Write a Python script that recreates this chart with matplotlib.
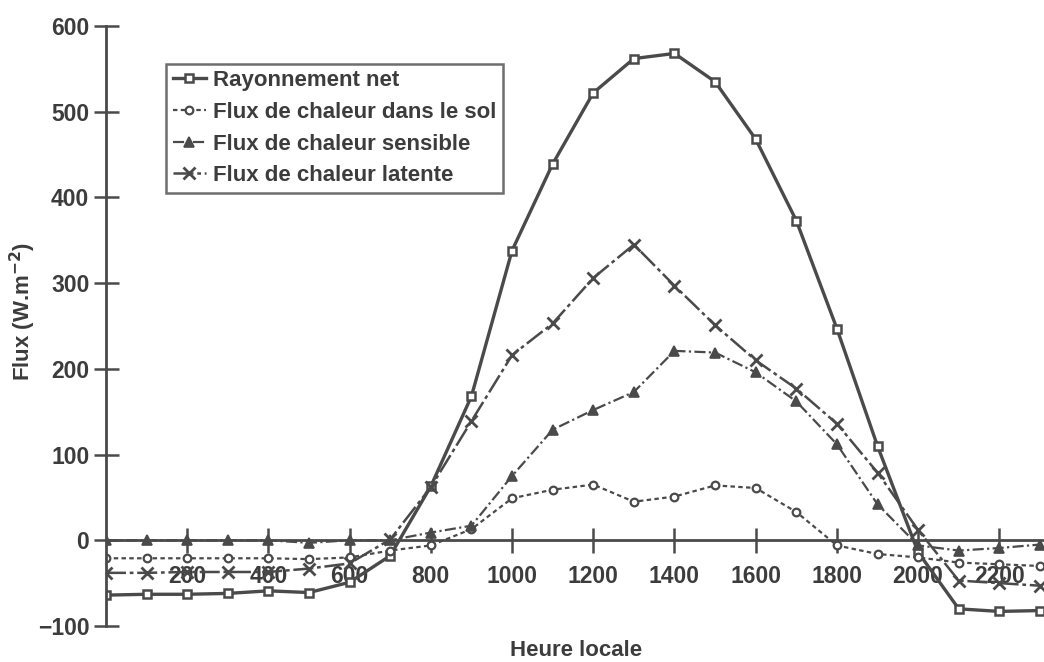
import numpy as np
import matplotlib.pyplot as plt

plt.rcParams['font.family'] = ['Liberation Sans', 'DejaVu Sans']
plt.rcParams['font.weight'] = 'bold'

# Heure locale (0 .. 2300)
heures = list(range(0, 2400, 100))

# Flux (W.m-2)
rayonnement_net = [-64, -63, -63, -62, -59, -61, -49, -18, 63, 168, 338, 439,
                   522, 562, 568, 535, 468, 373, 247, 110, -14, -80, -83, -82]
flux_sol = [-21, -21, -21, -21, -21, -22, -20, -12, -6, 13, 49, 59,
            65, 45, 51, 64, 61, 33, -6, -16, -20, -26, -28, -30]
flux_sensible = [0, 0, 0, 0, 0, -3, 0, 0, 9, 17, 75, 129,
                 152, 173, 221, 219, 196, 162, 112, 42, -6, -12, -9, -5]
flux_latente = [-38, -38, -37, -37, -37, -33, -27, 1, 62, 139, 216, 253,
                306, 345, 297, 251, 210, 177, 136, 79, 12, -47, -50, -53]

gris = '#4a4a4a'
texte = '#3c3c3c'

fig = plt.figure(figsize=(10.44, 6.62), dpi=100)
ax = fig.add_axes([0.1015, 0.0544, 0.8985, 0.9063])

ax.plot(heures, rayonnement_net, color=gris, lw=2.4, ls='-', marker='s',
        ms=6, mfc='white', mec=gris, mew=1.8, label='Rayonnement net')
ax.plot(heures, flux_sol, color=gris, lw=1.6, ls=(0, (2, 1.5)), marker='o',
        ms=5.5, mfc='white', mec=gris, mew=1.6, label='Flux de chaleur dans le sol')
ax.plot(heures, flux_sensible, color=gris, lw=1.6, ls=(0, (5, 1.5, 1, 1.5)), marker='^',
        ms=6.5, mfc=gris, mec=gris, mew=1.2, label='Flux de chaleur sensible')
ax.plot(heures, flux_latente, color=gris, lw=1.8, ls=(0, (8, 1.5, 1.5, 1.5)), marker='x',
        ms=8, mec=gris, mew=2, label='Flux de chaleur latente')

ax.set_xlim(0, 2310)
ax.set_ylim(-100, 600)

# axe des x sur la ligne zéro
ax.spines['bottom'].set_position(('data', 0))
ax.spines['top'].set_visible(False)
ax.spines['right'].set_visible(False)
for s in ['left', 'bottom']:
    ax.spines[s].set_color(gris)
    ax.spines[s].set_linewidth(2)

ax.set_xticks(range(200, 2400, 200))
ax.set_yticks(range(-100, 700, 100))
ax.tick_params(axis='both', direction='inout', length=18, width=1.8, color=gris,
               labelsize=16.5, labelcolor=texte)
ax.tick_params(axis='x', pad=9)
ax.tick_params(axis='y', pad=3)

fig.text(0.552, 0.017, 'Heure locale', ha='center', va='center', fontsize=16, color=texte)
fig.text(0.022, 0.53, 'Flux (W.m$^{\\mathbf{-2}}$)', ha='center', va='center', rotation=90,
         fontsize=16, color=texte)

leg = ax.legend(loc='upper left', bbox_to_anchor=(0.159, 0.904), bbox_transform=fig.transFigure,
                fontsize=16, handlelength=1.5, handletextpad=0.3, labelspacing=0.48,
                borderpad=0.3, frameon=True, fancybox=False, borderaxespad=0)
leg.get_frame().set_edgecolor(gris)
leg.get_frame().set_linewidth(1.8)
for t in leg.get_texts():
    t.set_color(texte)

fig.savefig('out.png', dpi=100)
